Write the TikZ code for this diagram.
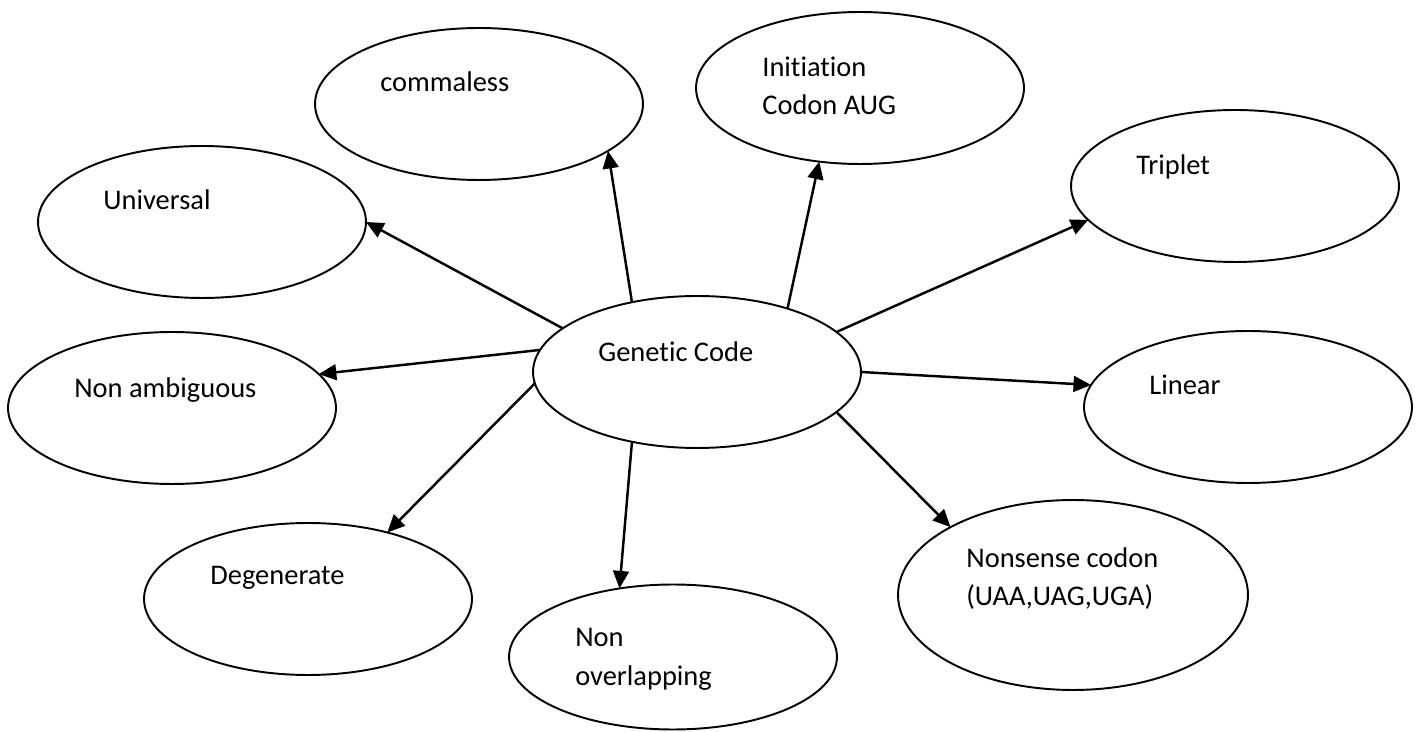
\documentclass[tikz,border=0pt]{standalone}
\usepackage{fontspec}
\setmainfont{Carlito}[Ligatures=NoCommon]
\usetikzlibrary{shapes.geometric, arrows.meta}

\tikzset{
  bubble/.style={draw, ellipse, line width=1.1pt, minimum width=6.56cm, minimum height=3.04cm, inner sep=0pt, outer sep=0pt},
  lbl/.style={anchor=base west, inner sep=0pt, align=left, font=\fontsize{16.2}{22}\selectfont},
  link/.style={-{Triangle[length=10pt,width=9pt]}, line width=1.4pt},
}

\begin{document}
\begin{tikzpicture}[x=0.02cm, y=-0.02cm]
    \useasboundingbox (0,0) rectangle (1423,732);

    % Centre bubble
    \node[bubble] (gc) at (697,372) {};
    \node[lbl] (gc-t) at (598,362) {Genetic Code};

    % Upper bubbles
    \node[bubble] (comma) at (479,104) {};
    \node[lbl] (comma-t) at (380,92) {commaless};
    \node[bubble] (init) at (860,88) {};
    \node[lbl] (init-t) at (762,115) {Initiation\\Codon AUG};
    \node[bubble] (trip) at (1235,186) {};
    \node[lbl] (trip-t) at (1136,175) {Triplet};
    \node[bubble] (univ) at (202,222) {};
    \node[lbl] (univ-t) at (103,210) {Universal};

    % Middle bubbles
    \node[bubble] (namb) at (172,408) {};
    \node[lbl] (namb-t) at (74,398) {Non ambiguous};
    \node[bubble] (lin) at (1248,407) {};
    \node[lbl] (lin-t) at (1149,395) {Linear};

    % Lower bubbles
    \node[bubble] (degen) at (308,599) {};
    \node[lbl] (degen-t) at (210,585) {Degenerate};
    \node[bubble, minimum height=2.9cm] (novl) at (673,657) {};
    \node[lbl] (novl-t) at (575,685) {Non\\overlapping};
    \node[bubble, minimum width=7cm, minimum height=3.8cm] (nons) at (1073,595) {};
    \node[lbl] (nons-t) at (966,606) {Nonsense codon\\(UAA,UAG,UGA)};

    % Arrows from the centre
    \draw[link] (gc.162) -- (univ.east);
    \draw[link] (gc.133) -- (comma.-20);
    \draw[link] (gc.35) -- (init.-119);
    \draw[link] (gc.16) -- (trip.193);
    \draw[link] (gc.east) -- (lin.172);
    \draw[link] (gc.-16) -- (nons.151);
    \draw[link] (gc.-133) -- (novl.128);
    \draw[link] (gc.184) -- (degen.40);
    \draw[link] (gc.172) -- (namb.13);
\end{tikzpicture}
\end{document}
